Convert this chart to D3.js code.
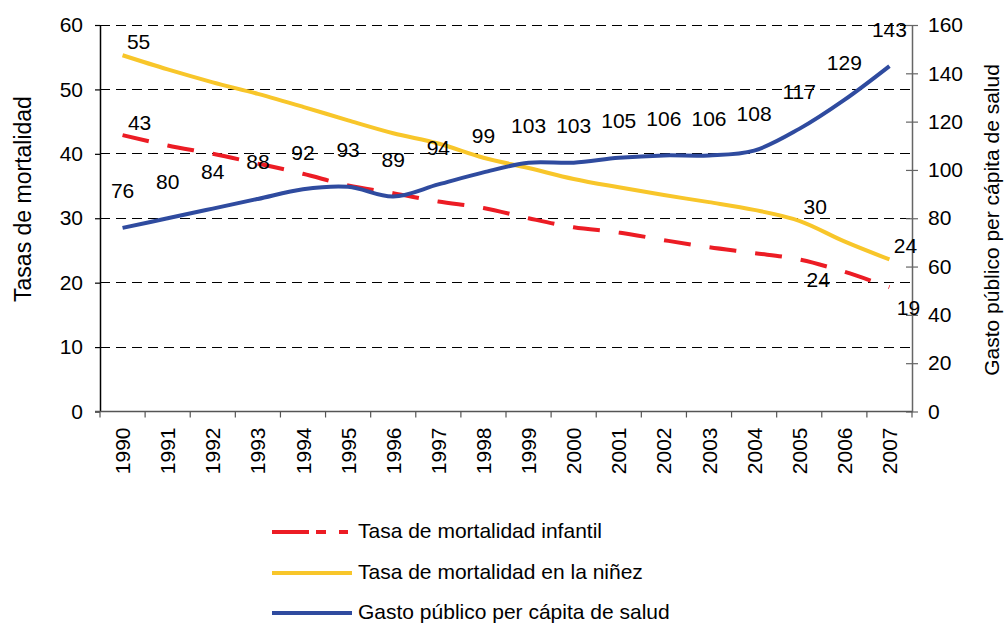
<!DOCTYPE html>
<html lang="es">
<head>
<meta charset="UTF-8">
<title>Mortalidad y gasto público en salud</title>
<script src="https://cdnjs.cloudflare.com/ajax/libs/d3/7.8.5/d3.min.js"></script>
<style>
    body { margin: 0; background: #fff; }
    svg text { font-family: Arial, "Liberation Sans", sans-serif; fill: #000; }
    .grid line { stroke: #000; stroke-width: 1; stroke-dasharray: 10,6; shape-rendering: crispEdges; }
</style>
</head>
<body>
<div id="chart"></div>
<script>
    // Data
    const years = ["1990","1991","1992","1993","1994","1995","1996","1997","1998",
                   "1999","2000","2001","2002","2003","2004","2005","2006","2007"];
    const infantil = [42.9, 41.3, 40.0, 38.5, 36.9, 35.1, 33.9, 32.6, 31.6,
                      30.0, 28.6, 27.8, 26.6, 25.5, 24.6, 23.6, 21.7, 19.3];
    const ninez = [55.3, 53.1, 51.1, 49.3, 47.3, 45.2, 43.2, 41.6, 39.4,
                   37.8, 36.1, 34.8, 33.6, 32.5, 31.3, 29.6, 26.4, 23.6];
    const gasto = [76, 80, 84, 88, 92, 93, 89, 94, 99,
                   103, 103, 105, 106, 106, 108, 117, 129, 143];
    const infantilLabels = [0, 15, 17];   // indices that carry a label
    const ninezLabels = [0, 15, 17];
    const leftTicks = [0, 10, 20, 30, 40, 50, 60];
    const rightTicks = [0, 20, 40, 60, 80, 100, 120, 140, 160];
    const seriesNames = ["Tasa de mortalidad infantil", "Tasa de mortalidad en la niñez", "Gasto público per cápita de salud"];

    const W = 1006, H = 624;
    const plot = {left: 100, right: 912, top: 25, bottom: 411.5};
    const colors = {red: "#ec1c24", yellow: "#f8c62a", blue: "#2f4b9f"};

    const svg = d3.select("#chart").append("svg")
        .attr("width", W).attr("height", H);

    const x = d3.scaleBand().domain(years).range([plot.left, plot.right]).padding(0);
    const cx = d => x(d) + x.bandwidth() / 2;
    const yL = d3.scaleLinear().domain([0, 60]).range([plot.bottom, plot.top]);
    const yR = d3.scaleLinear().domain([0, 160]).range([plot.bottom, plot.top]);

    // gridlines
    svg.append("g").attr("class", "grid")
        .selectAll("line").data(leftTicks.filter(v => v > 0)).enter().append("line")
        .attr("x1", plot.left).attr("x2", plot.right)
        .attr("y1", d => yL(d)).attr("y2", d => yL(d));

    // left axis
    const gL = svg.append("g")
        .attr("transform", `translate(${plot.left},0)`)
        .call(d3.axisLeft(yL).tickValues(leftTicks).tickSize(5).tickPadding(12).tickSizeOuter(0));
    gL.select(".domain").attr("stroke", "#000").attr("stroke-width", 1.5);
    gL.selectAll(".tick line").attr("stroke", "#000").attr("stroke-width", 1.2);
    gL.selectAll("text").attr("font-size", 21);

    // right axis, ticks crossing the line
    const gR = svg.append("g")
        .attr("transform", `translate(${plot.right},0)`)
        .call(d3.axisRight(yR).tickValues(rightTicks).tickSize(6).tickPadding(10).tickSizeOuter(0));
    gR.select(".domain").attr("stroke", "#666").attr("stroke-width", 1.5);
    gR.selectAll(".tick line").attr("x1", -6).attr("stroke", "#666").attr("stroke-width", 1.2);
    gR.selectAll("text").attr("font-size", 21);

    // bottom axis: labels at band centres, ticks on band edges
    const gB = svg.append("g")
        .attr("transform", `translate(0,${plot.bottom})`)
        .call(d3.axisBottom(x).tickSize(0).tickSizeOuter(0));
    gB.select(".domain").attr("d", `M${plot.left - 5},0H${plot.right}`)
        .attr("stroke", "#555").attr("stroke-width", 1.5);
    gB.selectAll("text")
        .attr("font-size", 21)
        .attr("transform", "rotate(-90)")
        .attr("text-anchor", "end")
        .attr("x", -16).attr("y", 0).attr("dy", "0.36em");
    gB.selectAll(".edge").data(years.map(d => x(d)).concat([plot.right]))
        .enter().append("line").attr("class", "edge")
        .attr("x1", d => d).attr("x2", d => d)
        .attr("y1", 0).attr("y2", 6)
        .attr("stroke", "#555").attr("stroke-width", 1.2);

    // lines
    const lineL = d3.line().x((d, i) => cx(years[i])).y(d => yL(d)).curve(d3.curveCatmullRom.alpha(0.5));
    const lineR = d3.line().x((d, i) => cx(years[i])).y(d => yR(d)).curve(d3.curveCatmullRom.alpha(0.5));

    svg.append("path").datum(infantil).attr("d", lineL)
        .attr("fill", "none").attr("stroke", colors.red).attr("stroke-width", 4)
        .attr("stroke-dasharray", "27,19");
    svg.append("path").datum(ninez).attr("d", lineL)
        .attr("fill", "none").attr("stroke", colors.yellow).attr("stroke-width", 4);
    svg.append("path").datum(gasto).attr("d", lineR)
        .attr("fill", "none").attr("stroke", colors.blue).attr("stroke-width", 4);

    // data labels
    const labels = svg.append("g").attr("font-size", 21).attr("text-anchor", "middle");
    labels.selectAll(".lb").data(gasto).enter().append("text")
        .attr("x", (d, i) => cx(years[i]))
        .attr("y", d => yR(d) - 37).attr("dy", "0.36em")
        .text(d => d);
    labels.selectAll(".ln").data(ninezLabels).enter().append("text")
        .attr("x", i => cx(years[i]) + 16)
        .attr("y", i => yL(ninez[i]) - 14).attr("dy", "0.36em")
        .text(i => Math.round(ninez[i]));
    labels.selectAll(".li").data(infantilLabels).enter().append("text")
        .attr("x", i => cx(years[i]) + (i === 0 ? 17 : 19))
        .attr("y", i => yL(infantil[i]) + (i === 0 ? -13 : 20)).attr("dy", "0.36em")
        .text(i => Math.round(infantil[i]));

    // axis titles
    svg.append("text")
        .attr("transform", "translate(23,199) rotate(-90)")
        .attr("text-anchor", "middle").attr("dy", "0.36em")
        .attr("font-size", 23)
        .text("Tasas de mortalidad");
    svg.append("text")
        .attr("transform", "translate(991,220) rotate(-90)")
        .attr("text-anchor", "middle").attr("dy", "0.36em")
        .attr("font-size", 21)
        .text("Gasto público per cápita de salud");

    // legend
    const legendY = [532, 573, 613];
    const legendStroke = [
        {color: colors.red, dash: "37,7,10,13,9,100"},
        {color: colors.yellow, dash: null},
        {color: colors.blue, dash: null}
    ];
    const lg = svg.append("g");
    seriesNames.forEach((name, i) => {
        lg.append("line")
            .attr("x1", 272).attr("x2", 352)
            .attr("y1", legendY[i]).attr("y2", legendY[i])
            .attr("stroke", legendStroke[i].color).attr("stroke-width", 4)
            .attr("stroke-dasharray", legendStroke[i].dash);
        lg.append("text")
            .attr("x", 358).attr("y", legendY[i]).attr("dy", "0.3em")
            .attr("font-size", 21)
            .text(name);
    });
</script>
</body>
</html>
